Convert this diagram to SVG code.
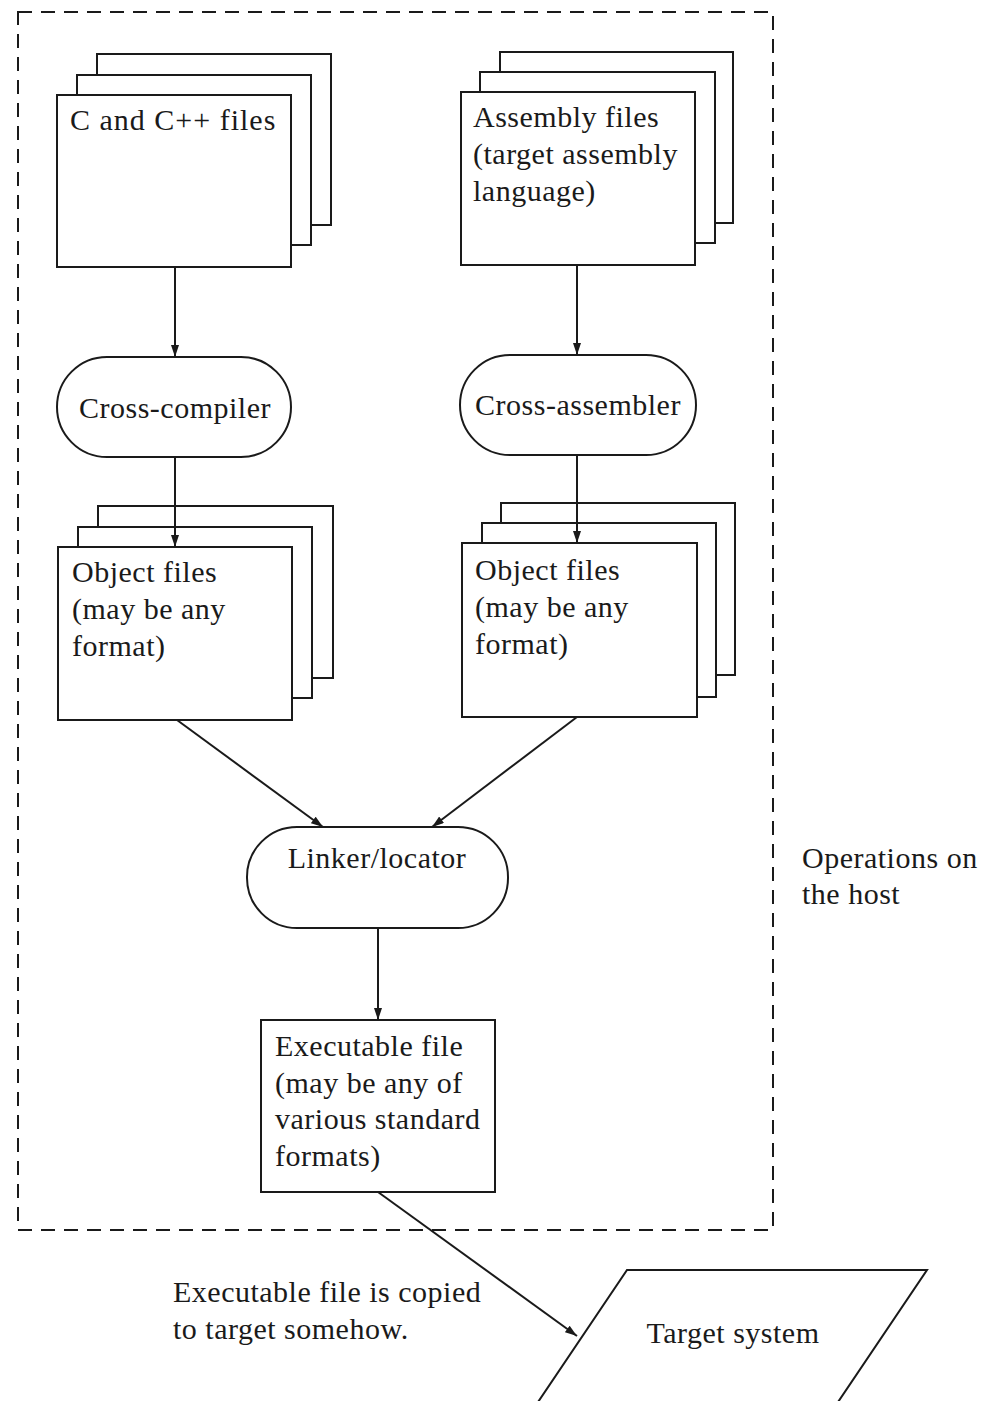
<svg xmlns="http://www.w3.org/2000/svg" width="986" height="1401" viewBox="0 0 986 1401">
  <style>
    .box { fill: #fff; stroke: #1a1a1a; stroke-width: 2; }
    .edge { fill: none; stroke: #1a1a1a; stroke-width: 2; }
    .host { fill: none; stroke: #1a1a1a; stroke-width: 2; stroke-dasharray: 14 9; }
    text { font-family: "Liberation Serif", "Times New Roman", serif; font-size: 30px; letter-spacing: 0.5px; fill: #1a1a1a; }
    .mid { text-anchor: middle; }
  </style>
  <defs>
    <marker id="arrow" viewBox="0 0 12 8" refX="12" refY="4" markerWidth="12" markerHeight="8" markerUnits="userSpaceOnUse" orient="auto">
      <path d="M0,0 L12,4 L0,8 z" fill="#1a1a1a"/>
    </marker>
  </defs>
  <rect width="986" height="1401" fill="#fff"/>

  <!-- host boundary -->
  <g id="host-boundary">
    <rect class="host" x="18" y="12" width="755" height="1218"/>
    <text x="802" y="868">Operations on</text>
    <text x="802" y="904">the host</text>
  </g>

  <!-- C and C++ source stack -->
  <g id="c-files">
    <rect class="box" x="97" y="54" width="234" height="171"/>
    <rect class="box" x="77" y="75" width="234" height="170"/>
    <rect class="box" x="57" y="95" width="234" height="172"/>
    <text x="70" y="130" style="letter-spacing:1px">C and C++ files</text>
  </g>

  <!-- assembly source stack -->
  <g id="asm-files">
    <rect class="box" x="500" y="52" width="233" height="171"/>
    <rect class="box" x="480" y="72" width="235" height="171"/>
    <rect class="box" x="461" y="92" width="234" height="173"/>
    <text x="473" y="127">Assembly files</text>
    <text x="473" y="164">(target assembly</text>
    <text x="473" y="201">language)</text>
  </g>

  <g id="cross-compiler">
    <rect class="box" x="57" y="357" width="234" height="100" rx="50" ry="50"/>
    <text class="mid" x="175" y="418">Cross-compiler</text>
  </g>

  <g id="cross-assembler">
    <rect class="box" x="460" y="355" width="236" height="100" rx="50" ry="50"/>
    <text class="mid" x="578" y="415">Cross-assembler</text>
  </g>

  <g id="object-files-c">
    <rect class="box" x="98" y="506" width="235" height="172"/>
    <rect class="box" x="78" y="527" width="234" height="171"/>
    <rect class="box" x="58" y="547" width="234" height="173"/>
    <text x="72" y="582">Object files</text>
    <text x="72" y="619">(may be any</text>
    <text x="72" y="656">format)</text>
  </g>

  <g id="object-files-asm">
    <rect class="box" x="501" y="503" width="234" height="172"/>
    <rect class="box" x="482" y="523" width="234" height="174"/>
    <rect class="box" x="462" y="543" width="235" height="174"/>
    <text x="475" y="580">Object files</text>
    <text x="475" y="617">(may be any</text>
    <text x="475" y="654">format)</text>
  </g>

  <g id="linker">
    <rect class="box" x="247" y="827" width="261" height="101" rx="50" ry="50"/>
    <text class="mid" x="377" y="868">Linker/locator</text>
  </g>

  <g id="executable">
    <rect class="box" x="261" y="1020" width="234" height="172"/>
    <text x="275" y="1056">Executable file</text>
    <text x="275" y="1093">(may be any of</text>
    <text x="275" y="1129">various standard</text>
    <text x="275" y="1166">formats)</text>
  </g>

  <g id="copy-note">
    <text x="173" y="1302">Executable file is copied</text>
    <text x="173" y="1339">to target somehow.</text>
  </g>

  <g id="target-system">
    <polygon class="box" points="627,1270 927,1270 834,1408 534,1408"/>
    <text class="mid" x="733" y="1343">Target system</text>
  </g>

  <!-- connectors, drawn last so they cross over the stacked sheets -->
  <g id="connectors">
    <line class="edge" x1="175" y1="267" x2="175" y2="357" marker-end="url(#arrow)"/>
    <line class="edge" x1="577" y1="265" x2="577" y2="355" marker-end="url(#arrow)"/>
    <line class="edge" x1="175" y1="457" x2="175" y2="547" marker-end="url(#arrow)"/>
    <line class="edge" x1="577" y1="455" x2="577" y2="543" marker-end="url(#arrow)"/>
    <line class="edge" x1="177" y1="720" x2="323" y2="827" marker-end="url(#arrow)"/>
    <line class="edge" x1="577" y1="717" x2="432" y2="827" marker-end="url(#arrow)"/>
    <line class="edge" x1="378" y1="928" x2="378" y2="1020" marker-end="url(#arrow)"/>
    <line class="edge" x1="378" y1="1192" x2="577" y2="1336" marker-end="url(#arrow)"/>
  </g>
</svg>
